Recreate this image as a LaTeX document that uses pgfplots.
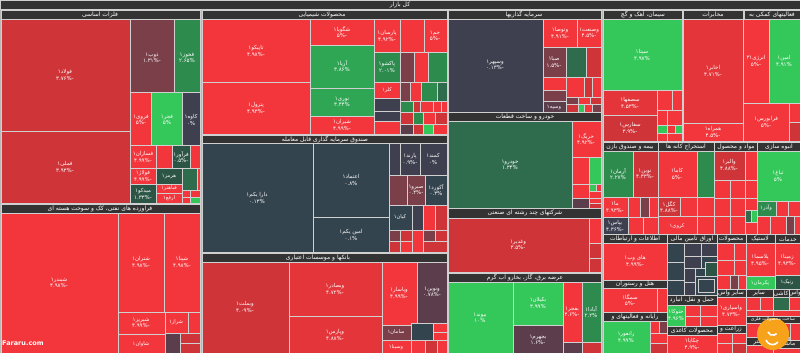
\documentclass[border=0pt]{standalone}
\usepackage{pgfplots}
\pgfplotsset{compat=1.18}
\usepackage{fontspec}
\setmainfont{DejaVu Sans}
\newfontfamily\af[Script=Arabic]{DejaVu Sans}
\TeXXeTstate=1
\definecolor{cR}{HTML}{F2363C}
\definecolor{cRb}{HTML}{E4353A}
\definecolor{cRc}{HTML}{CF3439}
\definecolor{cM}{HTML}{7B3F4A}
\definecolor{cMb}{HTML}{5C3D4B}
\definecolor{cS}{HTML}{3E3F4F}
\definecolor{cT}{HTML}{34444E}
\definecolor{cG}{HTML}{34C759}
\definecolor{cGb}{HTML}{2EA653}
\definecolor{cGc}{HTML}{2E8B4E}
\definecolor{cGd}{HTML}{2F6B4D}
\definecolor{cTG}{HTML}{2D5546}
\definecolor{cH}{HTML}{333333}
\definecolor{cL}{HTML}{D0D0D0}
\definecolor{cBG}{HTML}{B8B8B8}
\definecolor{cO}{HTML}{F7A21B}
\newcommand{\cell}[5]{\addplot[fill=#5,draw=cL,line width=0.5pt] coordinates {(#1,#2) (#3,#2) (#3,#4) (#1,#4)} -- cycle;}
\newcommand{\hd}[6]{\addplot[fill=cH,draw=cL,line width=0.5pt] coordinates {(#1,#2) (#3,#2) (#3,#4) (#1,#4)} -- cycle;
 \node[text=white,font=\af\fontsize{6}{6}\selectfont,inner sep=0pt] at (axis cs:#5,{(#2+#4)/2+0.3}) {#6};}
\newcommand{\lab}[4]{\node[text=white,align=center,font=\af\fontsize{5.5}{6.2}\selectfont,inner sep=0pt] at (axis cs:#1,#2) {#3\\\beginL #4\endL};}
\newcommand{\nm}[3]{\node[text=white,font=\af\fontsize{5.2}{6}\selectfont,inner sep=0pt] at (axis cs:#1,#2) {#3};}
\begin{document}
\begin{tikzpicture}
\begin{axis}[width=800pt,height=353pt,scale only axis,xmin=0,xmax=800,ymin=0,ymax=353,y dir=reverse,hide axis,clip=true]
\addplot[fill=cBG,draw=none] coordinates {(0,0) (800,0) (800,353) (0,353)} -- cycle;
% top header
\hd{0}{0}{800}{9.5}{400}{\beginR کل بازار\endR}
% sector headers
\hd{1}{10}{200}{19}{100}{\beginR فلزات اساسی\endR}
\hd{202}{10}{447}{19}{322}{\beginR محصولات شیمیایی\endR}
\hd{448}{10}{601}{19}{524}{\beginR سرمایه گذاریها\endR}
\hd{603}{10}{682}{19}{643}{\beginR سیمان، آهک و گچ\endR}
\hd{683}{10}{743}{19}{713}{\beginR مخابرات\endR}
\hd{744}{10}{800}{19}{772}{\beginR فعالیتهای کمکی به\endR}
% فلزات اساسی
\cell{1}{19}{130}{131}{cRc}
\cell{1}{131}{130}{203}{cRc}
\cell{130}{19}{174}{92}{cM}
\cell{174}{19}{200}{92}{cGc}
\cell{130}{92}{151}{145}{cR}
\cell{151}{92}{182}{145}{cG}
\cell{182}{92}{200}{145}{cS}
\cell{130}{145}{156}{168}{cR}
\cell{130}{168}{156}{184}{cR}
\cell{130}{184}{156}{203}{cTG}
\cell{156}{145}{172}{168}{cR}
\cell{172}{145}{190}{168}{cTG}
\cell{190}{145}{200}{168}{cR}
\cell{156}{168}{182}{184}{cTG}
\cell{182}{168}{197}{190}{cGd}
\cell{197}{168}{200}{190}{cR}
\cell{156}{184}{182}{193}{cR}
\cell{156}{193}{182}{203}{cR}
\cell{182}{190}{190}{197}{cR}
\cell{190}{190}{200}{197}{cR}
\cell{182}{197}{190}{203}{cR}
\cell{190}{197}{200}{203}{cG}
% فراورده
\hd{1}{204}{200}{213}{100}{\beginR فراورده های نفتی، کک و سوخت هسته ای\endR}
\cell{1}{213}{118}{353}{cR}
\cell{118}{213}{164}{312}{cR}
\cell{164}{213}{200}{312}{cR}
\cell{118}{312}{165}{334}{cR}
\cell{165}{312}{188}{333}{cR}
\cell{188}{312}{200}{333}{cR}
\cell{118}{334}{165}{353}{cR}
\cell{165}{333}{180}{353}{cMb}
\cell{180}{333}{200}{343}{cRc}
\cell{180}{343}{200}{353}{cRc}
% محصولات شیمیایی
\cell{202}{19}{310}{82}{cR}
\cell{202}{82}{310}{134}{cR}
\cell{310}{19}{374}{45}{cR}
\cell{310}{45}{374}{88}{cGb}
\cell{310}{88}{374}{116}{cGb}
\cell{310}{116}{374}{134}{cR}
\cell{374}{19}{400}{52}{cR}
\cell{374}{52}{400}{82}{cGc}
\cell{374}{82}{400}{98}{cR}
\cell{374}{98}{400}{111}{cS}
\cell{374}{111}{400}{121}{cS}
\cell{374}{121}{400}{134}{cR}
\cell{400}{19}{424}{52}{cR}
\cell{424}{19}{447}{52}{cR}
\cell{400}{52}{414}{82}{cM}
\cell{414}{52}{428}{82}{cR}
\cell{428}{52}{447}{82}{cGc}
\cell{400}{82}{410}{101}{cM}
\cell{410}{82}{421}{101}{cR}
\cell{421}{82}{437}{101}{cGc}
\cell{437}{82}{447}{101}{cGd}
\cell{400}{101}{413}{112}{cGc}
\cell{413}{101}{420}{112}{cRc}
\cell{420}{101}{433}{112}{cR}
\cell{433}{101}{441}{112}{cR}
\cell{441}{101}{447}{112}{cR}
\cell{400}{112}{413}{124}{cRc}
\cell{413}{112}{423}{124}{cGc}
\cell{423}{112}{435}{124}{cR}
\cell{435}{112}{447}{124}{cRc}
\cell{400}{124}{413}{134}{cMb}
\cell{413}{124}{423}{134}{cRc}
\cell{423}{124}{433}{134}{cG}
\cell{433}{124}{447}{134}{cR}
% صندوق
\hd{202}{135}{447}{143}{325}{\beginR صندوق سرمایه گذاری قابل معامله\endR}
\cell{202}{143}{313}{252}{cT}
\cell{313}{143}{389}{217}{cT}
\cell{313}{217}{389}{252}{cT}
\cell{389}{143}{400}{175}{cS}
\cell{400}{143}{420}{175}{cS}
\cell{420}{143}{447}{175}{cS}
\cell{389}{175}{407}{205}{cM}
\cell{407}{175}{425}{205}{cM}
\cell{425}{175}{447}{205}{cT}
\cell{389}{205}{412}{230}{cT}
\cell{412}{205}{423}{230}{cS}
\cell{423}{205}{435}{230}{cR}
\cell{435}{205}{447}{230}{cRc}
\cell{389}{230}{400}{241}{cM}
\cell{389}{241}{400}{252}{cRc}
\cell{400}{230}{412}{241}{cRc}
\cell{400}{241}{412}{252}{cR}
\cell{412}{230}{423}{252}{cR}
\cell{423}{230}{435}{241}{cM}
\cell{435}{230}{447}{241}{cRc}
\cell{423}{241}{447}{252}{cRc}
% بانکها
\hd{202}{253}{447}{262}{318}{\beginR بانکها و موسسات اعتباری\endR}
\cell{202}{262}{289}{353}{cRc}
\cell{289}{262}{382}{316}{cRb}
\cell{289}{316}{382}{353}{cRb}
\cell{382}{262}{417}{325}{cR}
\cell{417}{262}{447}{323}{cMb}
\cell{382}{325}{411}{340}{cM}
\cell{411}{323}{433}{340}{cT}
\cell{433}{323}{447}{332}{cR}
\cell{433}{332}{447}{341}{cR}
\cell{382}{340}{411}{353}{cR}
\cell{411}{340}{425}{353}{cR}
\cell{425}{340}{437}{353}{cRc}
\cell{437}{340}{447}{353}{cR}
% سرمایه گذاریها
\cell{448}{19}{543}{112}{cS}
\cell{543}{19}{577}{47}{cR}
\cell{577}{19}{601}{47}{cR}
\cell{543}{47}{566}{77}{cM}
\cell{566}{47}{586}{77}{cGd}
\cell{586}{47}{601}{77}{cRc}
\cell{543}{77}{566}{90}{cR}
\cell{543}{90}{566}{101}{cM}
\cell{543}{101}{566}{112}{cMb}
\cell{566}{77}{584}{97}{cR}
\cell{584}{77}{592}{97}{cRc}
\cell{592}{77}{601}{97}{cR}
\cell{566}{97}{578}{104}{cM}
\cell{578}{97}{590}{104}{cR}
\cell{590}{97}{601}{104}{cRc}
\cell{566}{104}{578}{112}{cRc}
\cell{578}{104}{584}{112}{cG}
\cell{584}{104}{592}{112}{cR}
\cell{592}{104}{601}{112}{cM}
% خودرو
\hd{448}{112}{601}{121}{525}{\beginR خودرو و ساخت قطعات\endR}
\cell{448}{121}{572}{208}{cGd}
\cell{572}{121}{601}{157}{cR}
\cell{572}{157}{589}{184}{cR}
\cell{589}{157}{601}{184}{cG}
\cell{572}{184}{589}{198}{cR}
\cell{589}{184}{596}{191}{cG}
\cell{596}{184}{601}{191}{cR}
\cell{589}{191}{601}{198}{cR}
\cell{572}{198}{589}{208}{cMb}
\cell{589}{198}{601}{203}{cR}
\cell{589}{203}{601}{208}{cRc}
% چند رشته ای
\hd{448}{208}{601}{218}{525}{\beginR شرکتهای چند رشته ای صنعتی\endR}
\cell{448}{218}{589}{272}{cRc}
\cell{589}{218}{601}{243}{cR}
\cell{589}{243}{601}{258}{cRc}
\cell{589}{258}{601}{272}{cRc}
% عرضه برق
\hd{448}{273}{601}{282}{525}{\beginR عرضه برق، گاز، بخارو آب گرم\endR}
\cell{448}{282}{513}{353}{cG}
\cell{513}{282}{563}{325}{cG}
\cell{513}{325}{563}{353}{cMb}
\cell{563}{282}{582}{342}{cR}
\cell{582}{282}{601}{342}{cGc}
\cell{563}{342}{582}{353}{cMb}
\cell{582}{342}{601}{353}{cRc}
% سیمان / مخابرات / فعالیتهای کمکی
\cell{603}{19}{682}{90}{cG}
\cell{603}{90}{657}{115}{cRb}
\cell{603}{115}{657}{141}{cRc}
\cell{657}{90}{672}{110}{cR}
\cell{672}{90}{682}{110}{cR}
\cell{657}{110}{667}{125}{cR}
\cell{667}{110}{682}{125}{cR}
\cell{657}{125}{667}{133}{cG}
\cell{657}{133}{667}{141}{cR}
\cell{667}{125}{675}{133}{cR}
\cell{675}{125}{682}{133}{cG}
\cell{667}{133}{682}{141}{cR}
\cell{683}{19}{743}{123}{cRb}
\cell{683}{123}{743}{141}{cR}
\cell{743}{19}{769}{103}{cR}
\cell{769}{19}{800}{103}{cG}
\cell{743}{103}{789}{141}{cR}
\cell{789}{103}{800}{122}{cR}
\cell{789}{122}{800}{141}{cRc}
% row 2
\hd{603}{142}{658}{151}{630}{\beginR بیمه و صندوق بازن\endR}
\hd{658}{142}{714}{151}{686}{\beginR استخراج کانه ها\endR}
\hd{714}{142}{757}{151}{736}{\beginR مواد و محصول\endR}
\hd{757}{142}{800}{151}{779}{\beginR انبوه سازی\endR}
\cell{603}{151}{633}{197}{cGc}
\cell{633}{151}{658}{197}{cRc}
\cell{603}{197}{628}{217}{cR}
\cell{628}{197}{640}{217}{cR}
\cell{640}{197}{649}{217}{cM}
\cell{649}{197}{658}{217}{cR}
\cell{603}{217}{628}{234}{cS}
\cell{628}{217}{643}{234}{cR}
\cell{643}{217}{658}{234}{cR}
\cell{658}{151}{697}{197}{cR}
\cell{697}{151}{714}{197}{cGc}
\cell{658}{197}{680}{216}{cRc}
\cell{680}{197}{697}{216}{cR}
\cell{697}{197}{714}{216}{cR}
\cell{658}{216}{697}{234}{cR}
\cell{697}{216}{714}{234}{cR}
\cell{714}{151}{745}{180}{cRc}
\cell{745}{151}{757}{180}{cR}
\cell{714}{180}{730}{198}{cR}
\cell{730}{180}{745}{198}{cR}
\cell{745}{180}{757}{198}{cR}
\cell{714}{198}{730}{216}{cR}
\cell{730}{198}{745}{216}{cR}
\cell{745}{198}{757}{210}{cR}
\cell{745}{210}{751}{222}{cGd}
\cell{751}{210}{757}{222}{cG}
\cell{714}{216}{730}{234}{cR}
\cell{730}{216}{745}{234}{cR}
\cell{745}{222}{757}{234}{cR}
\cell{757}{151}{800}{201}{cG}
\cell{757}{201}{776}{216}{cGc}
\cell{776}{201}{788}{216}{cR}
\cell{788}{201}{800}{216}{cR}
\cell{757}{216}{770}{234}{cR}
\cell{770}{216}{786}{234}{cR}
\cell{786}{216}{794}{234}{cM}
\cell{794}{216}{800}{234}{cR}
% row 3
\hd{603}{234}{667}{243}{635}{\beginR اطلاعات و ارتباطات\endR}
\hd{667}{234}{717}{243}{692}{\beginR اوراق تامین مالی\endR}
\hd{717}{234}{746}{243}{731}{\beginR محصولات\endR}
\hd{746}{234}{775}{243}{760}{\beginR لاستیک\endR}
\hd{775}{234}{800}{243}{788}{\beginR خدمات\endR}
\cell{603}{243}{667}{280}{cR}
\hd{603}{280}{667}{288}{635}{\beginR هتل و رستوران\endR}
\cell{603}{288}{657}{312}{cR}
\cell{657}{288}{667}{312}{cR}
\hd{603}{312}{667}{321}{635}{\beginR رایانه و فعالیتهای و\endR}
\cell{603}{321}{650}{353}{cG}
\cell{650}{321}{659}{333}{cR}
\cell{659}{321}{667}{333}{cM}
\cell{650}{333}{667}{343}{cR}
\cell{650}{343}{667}{353}{cRc}
\cell{667}{243}{684}{262}{cT}
\cell{684}{243}{701}{256}{cS}
\cell{701}{243}{717}{256}{cS}
\cell{684}{256}{701}{268}{cS}
\cell{701}{256}{717}{268}{cT}
\cell{667}{262}{684}{280}{cT}
\cell{667}{280}{684}{295}{cT}
\cell{684}{268}{695}{282}{cS}
\cell{684}{282}{695}{295}{cS}
\cell{695}{268}{705}{276}{cT}
\cell{705}{262}{717}{276}{cTG}
\cell{695}{276}{717}{295}{cT}
\cell{698}{279}{714}{292}{cT}
\hd{667}{295}{717}{305}{692}{\beginR حمل و نقل، انبارد\endR}
\cell{667}{305}{685}{326}{cG}
\cell{685}{305}{700}{316}{cR}
\cell{700}{305}{717}{316}{cR}
\cell{685}{316}{700}{326}{cR}
\cell{700}{316}{717}{326}{cR}
\hd{667}{326}{717}{335}{692}{\beginR محصولات کاغذی\endR}
\cell{667}{335}{717}{353}{cR}
\cell{717}{243}{734}{260}{cR}
\cell{734}{243}{746}{260}{cR}
\cell{717}{260}{734}{275}{cR}
\cell{734}{260}{746}{275}{cR}
\cell{717}{275}{730}{289}{cR}
\cell{730}{275}{738}{289}{cM}
\cell{738}{275}{746}{289}{cR}
\hd{717}{289}{746}{297}{731}{\beginR سایر واس\endR}
\cell{717}{297}{746}{325}{cR}
\hd{717}{325}{746}{333}{731}{\beginR زراعت و\endR}
\cell{717}{333}{732}{343}{cR}
\cell{732}{333}{746}{343}{cR}
\cell{717}{343}{732}{353}{cR}
\cell{732}{343}{746}{353}{cRc}
\cell{746}{243}{775}{276}{cR}
\cell{746}{276}{775}{289}{cG}
\hd{746}{289}{773}{297}{759}{\beginR سایر\endR}
\cell{746}{297}{760}{310}{cR}
\cell{760}{297}{773}{310}{cR}
\cell{775}{243}{800}{275}{cR}
\cell{775}{275}{800}{289}{cTG}
\hd{773}{289}{789}{297}{781}{\beginR کاشی\endR}
\hd{789}{289}{800}{297}{795}{\beginR واس\endR}
\cell{773}{297}{789}{310}{cGd}
\cell{789}{297}{800}{310}{cR}
\cell{746}{310}{773}{316}{cR}
\cell{773}{310}{800}{316}{cR}
\addplot[fill=cH,draw=cL,line width=0.5pt] coordinates {(746,316) (800,316) (800,323) (746,323)} -- cycle;
\cell{746}{323}{760}{337}{cR}
\cell{760}{323}{790}{337}{cR}
\cell{790}{323}{800}{340}{cR}
\hd{746}{337}{773}{345}{760}{\beginR گستر\endR}
\hd{773}{340}{800}{348}{787}{\beginR ماشین\endR}
\cell{746}{345}{773}{353}{cR}
\cell{773}{348}{800}{353}{cR}
% labels
\lab{65}{75}{\beginR فولاد۱\endR}{-۳.۷۶\%}
\lab{65}{167}{\beginR فملی۱\endR}{-۳.۹۳\%}
\lab{152}{58}{\beginR ذوب۱\endR}{-۱.۳۱\%}
\lab{187}{58}{\beginR فخوز۱\endR}{۲.۶۵\%}
\lab{141}{120}{\beginR فروی۱\endR}{-۵\%}
\lab{167}{120}{\beginR فجر۱\endR}{۵\%}
\lab{191}{120}{\beginR کاوه۱\endR}{۰\%}
\lab{143}{157}{\beginR فسازان۱\endR}{-۴.۹۹\%}
\lab{143}{176}{\beginR فولاژ۱\endR}{-۴.۹۹\%}
\lab{143}{194}{\beginR میدکو۱\endR}{-۱.۳۳\%}
\lab{181}{157}{\beginR فرآور۱\endR}{-۰.۵\%}
\nm{169}{176}{\beginR هرمز۱\endR}
\nm{169}{188.5}{\beginR فباهنر۱\endR}
\nm{169}{198}{\beginR ارفع۱\endR}
\lab{59}{283}{\beginR شبندر۱\endR}{-۴.۹۸\%}
\lab{141}{262}{\beginR شتران۱\endR}{-۴.۹۸\%}
\lab{182}{262}{\beginR شپنا۱\endR}{-۴.۹۸\%}
\lab{141}{323}{\beginR شبریز۱\endR}{-۴.۹۹\%}
\nm{176}{322}{\beginR شراز۱\endR}
\nm{141}{344}{\beginR شاوان۱\endR}
\lab{256}{51}{\beginR تاپیکو۱\endR}{-۴.۹۸\%}
\lab{256}{108}{\beginR پترول۱\endR}{-۴.۹۳\%}
\lab{342}{32}{\beginR شگویا۱\endR}{-۵\%}
\lab{342}{66}{\beginR آریا۱\endR}{۳.۸۶\%}
\lab{342}{102}{\beginR نوری۱\endR}{۳.۴۴\%}
\lab{342}{125}{\beginR شیران۱\endR}{-۴.۹۹\%}
\lab{387}{36}{\beginR پارسان۱\endR}{-۴.۹۲\%}
\lab{387}{67}{\beginR پاکشو۱\endR}{۲.۰۱\%}
\nm{387}{90}{\beginR کلر۱\endR}
\lab{435}{36}{\beginR جم۱\endR}{-۵\%}
\lab{257}{198}{\beginR دارا یکم۱\endR}{۰.۱۳\%}
\lab{351}{180}{\beginR اعتماد۱\endR}{۰.۸\%}
\lab{351}{235}{\beginR امین یکم۱\endR}{۰.۱\%}
\lab{410}{159}{\beginR پارند۱\endR}{-۰.۹\%}
\lab{433}{159}{\beginR کمند۱\endR}{۰\%}
\lab{416}{190}{\beginR صبرو۱\endR}{-۰.۴\%}
\lab{436}{190}{\beginR آکورد۱\endR}{۰.۳\%}
\nm{400}{217}{\beginR کیان۱\endR}
\lab{245}{307}{\beginR وبملت۱\endR}{-۴.۰۹\%}
\lab{335}{289}{\beginR وبصادر۱\endR}{-۴.۷۲\%}
\lab{335}{335}{\beginR وپارس۱\endR}{-۴.۸۸\%}
\lab{399}{293}{\beginR وپاسار۱\endR}{-۴.۹۹\%}
\lab{432}{292}{\beginR ونوین۱\endR}{-۰.۷۸\%}
\nm{396}{332}{\beginR سامان۱\endR}
\nm{396}{347}{\beginR وسینا۱\endR}
\lab{495}{65}{\beginR وسپهر۱\endR}{-۰.۱۳\%}
\lab{560}{33}{\beginR وتوصا۱\endR}{-۴.۹۱\%}
\lab{589}{33}{\beginR وصنعت۱\endR}{-۴.۵\%}
\lab{554}{62}{\beginR صبا۱\endR}{-۱.۵\%}
\nm{554}{107}{\beginR وسپه۱\endR}
\lab{510}{165}{\beginR خودرو۱\endR}{۱.۳۴\%}
\lab{586}{139}{\beginR خریگ۱\endR}{-۴.۹۲\%}
\lab{518}{245}{\beginR وغدیر۱\endR}{-۳.۵\%}
\lab{480}{318}{\beginR بیوند۱\endR}{۱۰\%}
\lab{538}{303}{\beginR بکیلان۱\endR}{۳.۹۹\%}
\lab{538}{340}{\beginR بجهرم۱\endR}{-۱.۶\%}
\lab{572}{312}{\beginR بفجر۱\endR}{-۴.۶\%}
\lab{591}{312}{\beginR آبادا۱\endR}{۲.۲\%}
\lab{642}{55}{\beginR سپتا۱\endR}{۴.۹۷\%}
\lab{630}{103}{\beginR سصفها۱\endR}{-۴.۵۳\%}
\lab{630}{128}{\beginR سفارس۱\endR}{-۳.۹\%}
\lab{713}{71}{\beginR اخابر۱\endR}{-۴.۷۱\%}
\lab{713}{132}{\beginR همراه۱\endR}{-۴.۵\%}
\lab{756}{61}{\beginR انرژی۳۱\endR}{-۵\%}
\lab{784}{61}{\beginR امین۱\endR}{۴.۹۱\%}
\lab{766}{122}{\beginR فرابورس۱\endR}{-۵\%}
\lab{618}{174}{\beginR آرمان۱\endR}{۲.۲۷\%}
\lab{645}{174}{\beginR نوین۱\endR}{-۴.۳۳\%}
\lab{615}{207}{\beginR ما۱\endR}{-۴.۹۳\%}
\lab{615}{226}{\beginR بپاس۱\endR}{-۴.۳۶\%}
\lab{677}{174}{\beginR کاما۱\endR}{-۵\%}
\lab{669}{207}{\beginR کگل۱\endR}{-۴.۸۸\%}
\nm{677}{226}{\beginR کروی۱\endR}
\lab{729}{165}{\beginR والبر۱\endR}{-۴.۸۸\%}
\lab{778}{176}{\beginR ثباغ۱\endR}{۵\%}
\nm{766}{208}{\beginR وآذر۱\endR}
\lab{635}{261}{\beginR های وب۱\endR}{-۴.۹۹\%}
\lab{630}{300}{\beginR سمگا۱\endR}{-۵\%}
\lab{626}{337}{\beginR رانفور۱\endR}{۴.۹۹\%}
\lab{676}{315}{\beginR حتوکا۱\endR}{۴.۹۶\%}
\lab{692}{344}{\beginR چکاپا۱\endR}{-۴.۹\%}
\lab{731}{311}{\beginR واسپاری۱\endR}{-۴.۷۳\%}
\lab{760}{260}{\beginR پلاسما۱\endR}{-۴.۹۵\%}
\nm{760}{283}{\beginR پکرمان۱\endR}
\lab{787}{260}{\beginR زمینا۱\endR}{-۴.۹۳\%}
\nm{787}{282}{\beginR رنیک۱\endR}
\fill[color=cO] (axis cs:773,334) circle[radius=16pt];
\draw[white,line width=1.6pt] (axis cs:766,340) arc[start angle=200,end angle=320,radius=7pt];
\draw[white,line width=1.6pt] (axis cs:768,332) arc[start angle=200,end angle=320,radius=5pt];
\node[text=white,font=\af\fontsize{4.6}{5}\selectfont,inner sep=0pt] at (axis cs:773,319.5) {\beginR ساخت محصولات فلزی\endR};
\node[text=white,font=\bfseries\fontsize{6.5}{7}\selectfont,anchor=west,inner sep=0pt] at (axis cs:2,343.5) {Fararu.com};
\end{axis}
\end{tikzpicture}
\end{document}
